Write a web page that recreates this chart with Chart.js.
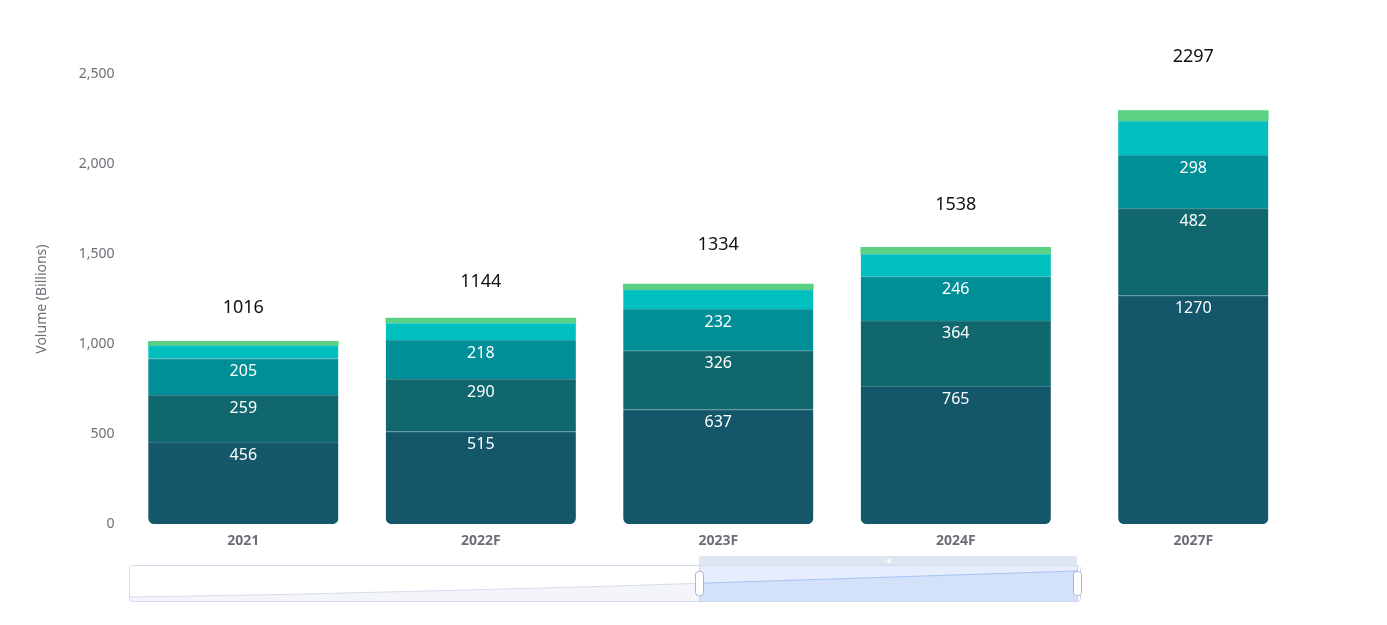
<!DOCTYPE html>
<html>
<head>
<meta charset="utf-8">
<script src="https://cdn.jsdelivr.net/npm/chart.js@4.4.1/dist/chart.umd.min.js"></script>
<style>
  html, body { margin: 0; padding: 0; background: #fff; }
  #wrap { width: 1387px; height: 625px; position: relative; }
</style>
</head>
<body>
<div id="wrap"><canvas id="chart"></canvas></div>
<script>
// categories and values
const years = ["2021", "2022F", "2023F", "2024F", "2027F"];
const seriesA = [456, 515, 637, 765, 1270];
const seriesB = [259, 290, 326, 364, 482];
const seriesC = [205, 218, 232, 246, 298];
const seriesD = [72, 93, 106, 124, 189];
const seriesE = [24, 28, 33, 39, 58];
const totals = [1016, 1144, 1334, 1538, 2297];
const yTicks = [0, 500, 1000, 1500, 2000, 2500];

const colors = ["#14566a", "#10676e", "#008f96", "#00bfbf", "#5ad183"];
const lineColors = ["#437888", "#40858b", "#33a5ab", "#40cccc", "#5ad183"];
const allSeries = [seriesA, seriesB, seriesC, seriesD, seriesE];
const lastIdx = years.length - 1;

// each series is split so the last column can be narrower
const datasets = [];
allSeries.forEach((vals, s) => {
  [false, true].forEach((isLast) => {
    datasets.push({
      label: "s" + s + (isLast ? "b" : "a"),
      data: vals.map((v, i) => ((i === lastIdx) === isLast ? v : null)),
      backgroundColor: colors[s],
      borderColor: lineColors[s],
      borderWidth: { top: s < 4 ? 1 : 0, left: 0, right: 0, bottom: 0 },
      borderSkipped: false,
      borderRadius: s === 0 ? { topLeft: 0, topRight: 0, bottomLeft: 6, bottomRight: 6 } : 0,
      barThickness: isLast ? 150 : 190,
      series: s,
    });
  });
});

const labelPlugin = {
  id: "labels",
  afterDatasetsDraw(chart) {
    const ctx = chart.ctx;
    ctx.save();
    ctx.textAlign = "center";
    ctx.textBaseline = "middle";
    chart.data.datasets.forEach((ds, di) => {
      const meta = chart.getDatasetMeta(di);
      meta.data.forEach((el, i) => {
        const v = ds.data[i];
        if (v == null) return;
        if (ds.series < 3) {
          ctx.fillStyle = "#ffffff";
          ctx.font = "16px 'Noto Sans', sans-serif";
          ctx.fillText(String(v), el.x, el.y + 13);
        }
        if (ds.series === 4) {
          ctx.fillStyle = "#111111";
          ctx.font = "18px 'Noto Sans', sans-serif";
          ctx.fillText(String(totals[i]), el.x, el.y - (18 + 0.0156 * totals[i]));
        }
      });
    });
    ctx.restore();
  },
};

// the zoom slider under the chart
const sliderPlugin = {
  id: "slider",
  afterDraw(chart) {
    const ctx = chart.ctx;
    const left = 129.5, right = 1080.5, top = 565.5, bottom = 601.5;
    const selL = 699, selR = 1077;
    const lo = Math.min(...totals), hi = Math.max(...totals);
    const yr = years.map((y) => parseInt(y, 10));
    const y0 = yr[0], y1 = yr[yr.length - 1];
    const pts = totals.map((t, i) => ({
      x: left + (selR - left) * (yr[i] - y0) / (y1 - y0),
      y: 597 - (t - lo) / (hi - lo) * 26,
    }));
    const path = () => {
      ctx.beginPath();
      pts.forEach((p, i) => (i ? ctx.lineTo(p.x, p.y) : ctx.moveTo(p.x, p.y)));
    };
    ctx.save();
    // shadow area
    path();
    ctx.lineTo(selR, bottom); ctx.lineTo(left, bottom); ctx.closePath();
    ctx.fillStyle = "#f3f5fa"; ctx.fill();
    path(); ctx.strokeStyle = "#d6dcea"; ctx.lineWidth = 1; ctx.stroke();
    // selected window
    ctx.beginPath(); ctx.rect(selL, top, selR - selL, bottom - top); ctx.clip();
    ctx.fillStyle = "#e6edfc"; ctx.fillRect(selL, top, selR - selL, bottom - top);
    path(); ctx.lineTo(selR, bottom); ctx.lineTo(left, bottom); ctx.closePath();
    ctx.fillStyle = "#d3e1fb"; ctx.fill();
    path(); ctx.strokeStyle = "#a8c3f3"; ctx.stroke();
    ctx.restore();
    ctx.save();
    // outer frame
    ctx.strokeStyle = "#d3dbee"; ctx.lineWidth = 1;
    ctx.beginPath(); ctx.roundRect(left, top, right - left, bottom - top, 3); ctx.stroke();
    // top move bar
    ctx.fillStyle = "#dfe5f3";
    ctx.beginPath(); ctx.roundRect(selL, 556, selR - selL, 9, [3, 3, 0, 0]); ctx.fill();
    ctx.strokeStyle = "#ffffff";
    [-2, 0, 2].forEach((d) => {
      ctx.beginPath(); ctx.moveTo(888.5 + d, 559); ctx.lineTo(888.5 + d, 563); ctx.stroke();
    });
    // edges of window
    ctx.strokeStyle = "#c9d3ea";
    ctx.beginPath(); ctx.moveTo(selL + 0.5, top); ctx.lineTo(selL + 0.5, bottom); ctx.stroke();
    ctx.beginPath(); ctx.moveTo(selR + 0.5, top); ctx.lineTo(selR + 0.5, bottom); ctx.stroke();
    // handles
    [selL, selR].forEach((hx) => {
      ctx.fillStyle = "#ffffff"; ctx.strokeStyle = "#aab6d2";
      ctx.beginPath(); ctx.roundRect(hx - 3.5, 571.5, 8, 24, 3); ctx.fill(); ctx.stroke();
    });
    ctx.restore();
  },
};

new Chart(document.getElementById("chart"), {
  type: "bar",
  data: { labels: years, datasets },
  options: {
    responsive: true,
    maintainAspectRatio: false,
    animation: false,
    layout: { padding: { top: 74, left: 30, right: 75, bottom: 76 } },
    plugins: { legend: { display: false }, tooltip: { enabled: false } },
    scales: {
      x: {
        stacked: true,
        grid: { display: false },
        border: { display: false },
        ticks: {
          color: "#6e6e78",
          font: { family: "'Noto Sans', sans-serif", size: 14, weight: "bold" },
          padding: 0,
        },
      },
      y: {
        stacked: true,
        min: 0,
        max: 2500,
        afterBuildTicks: (axis) => { axis.ticks = yTicks.map((v) => ({ value: v })); },
        grid: { display: false, drawTicks: false },
        border: { display: false },
        ticks: {
          color: "#6e7079",
          font: { family: "'Noto Sans', sans-serif", size: 14 },
          padding: 10,
          callback: (v) => v.toLocaleString("en-US"),
        },
        title: {
          display: true,
          text: "Volume (Billions)",
          color: "#6e7079",
          font: { family: "'Noto Sans', sans-serif", size: 14 },
          padding: { bottom: 18 },
        },
      },
    },
  },
  plugins: [labelPlugin, sliderPlugin],
});
</script>
</body>
</html>
